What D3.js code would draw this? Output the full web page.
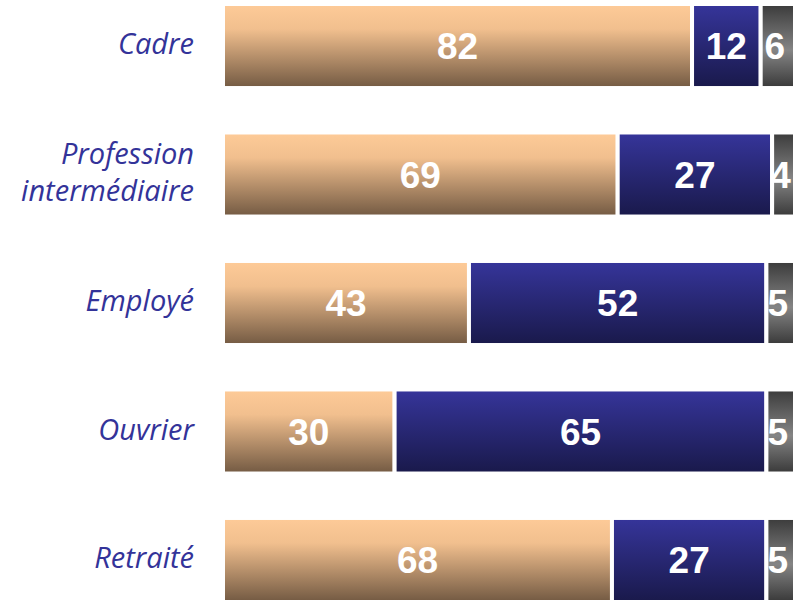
<!DOCTYPE html>
<html>
<head>
<meta charset="utf-8">
<script src="https://cdn.jsdelivr.net/npm/d3@7"></script>
<style>
  html, body { margin: 0; padding: 0; background: #fff; overflow: hidden; }
  svg { display: block; }
</style>
</head>
<body>
<svg id="chart"></svg>
<script>
// categories and values (percentages)
const categories = ["Cadre", "Profession intermédiaire", "Employé", "Ouvrier", "Retraité"];
const categoryLines = [["Cadre"], ["Profession", "intermédiaire"], ["Employé"], ["Ouvrier"], ["Retraité"]];
const seriesKeys = ["serie1", "serie2", "serie3"];
const serie1 = [82, 69, 43, 30, 68];
const serie2 = [12, 27, 52, 65, 27];
const serie3 = [6, 4, 5, 5, 5];

const width = 794, height = 600;

const svg = d3.select("#chart")
    .attr("width", width)
    .attr("height", height);

// build table for the stack
const table = categories.map((c, i) => ({
    cat: c, serie1: serie1[i], serie2: serie2[i], serie3: serie3[i]
}));
const stacked = d3.stack().keys(seriesKeys)(table);

const x = d3.scaleLinear().domain([0, 100]).range([223, 795]);
const y = d3.scaleBand().domain(categories).range([4, 602]).paddingInner(0.346).paddingOuter(0);

// gradients
const defs = svg.append("defs");
const gradients = {
    serie1: [[0, "#fecb98"], [0.3, "#f1bf8e"], [1, "#725942"]],
    serie2: [[0, "#36359b"], [1, "#19194a"]],
    serie3: [[0, "#3a3a3a"], [0.55, "#858585"], [1, "#383838"]]
};
Object.entries(gradients).forEach(([key, stops]) => {
    const g = defs.append("linearGradient")
        .attr("id", "grad-" + key)
        .attr("x1", 0).attr("y1", 0).attr("x2", 0).attr("y2", 1);
    stops.forEach(([o, c]) => g.append("stop").attr("offset", o).attr("stop-color", c));
});

// bars
const layers = svg.append("g")
    .selectAll("g")
    .data(stacked)
    .enter().append("g")
    .attr("fill", d => `url(#grad-${d.key})`);

layers.selectAll("rect")
    .data(d => d)
    .enter().append("rect")
    .attr("x", d => x(d[0]))
    .attr("y", d => y(d.data.cat))
    .attr("width", d => x(d[1]) - x(d[0]))
    .attr("height", y.bandwidth())
    .attr("stroke", "#fff")
    .attr("stroke-width", 4);

// value labels
layers.selectAll("text")
    .data(d => d.map(v => Object.assign(v, { key: d.key })))
    .enter().append("text")
    .attr("x", d => (x(d[0]) + x(d[1])) / 2 - (d.key === "serie3" ? 3 : 0))
    .attr("y", d => y(d.data.cat) + y.bandwidth() / 2)
    .attr("dy", "0.36em")
    .attr("text-anchor", "middle")
    .attr("fill", "#fff")
    .style("font-family", "'Liberation Sans', Arial, sans-serif")
    .style("font-weight", "bold")
    .style("font-size", "37px")
    .text(d => d[1] - d[0]);

// category labels
const labels = svg.append("g")
    .selectAll("text")
    .data(categories)
    .enter().append("text")
    .attr("text-anchor", "end")
    .attr("fill", "#333399")
    .style("font-family", "'Open Sans', sans-serif")
    .style("font-style", "italic")
    .style("font-size", "29px")
    .attr("transform", d => `translate(194, ${y(d) + y.bandwidth() / 2 - 2})`);

labels.each(function(d, i) {
    const lines = categoryLines[i];
    const lh = 37;
    d3.select(this).selectAll("tspan")
        .data(lines)
        .enter().append("tspan")
        .attr("x", 0)
        .attr("y", (l, j) => (j - (lines.length - 1) / 2) * lh)
        .attr("dy", "0.35em")
        .text(l => l);
});
</script>
</body>
</html>
